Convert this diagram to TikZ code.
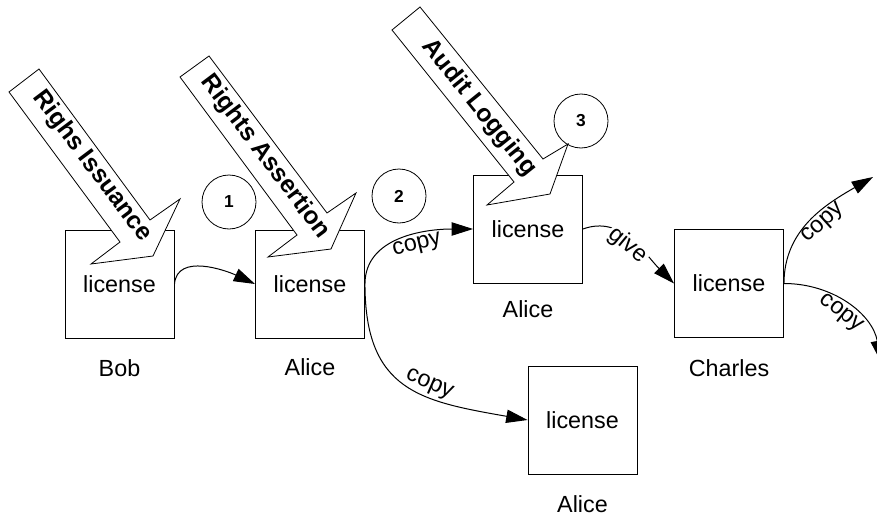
\documentclass[tikz,border=0pt]{standalone}
\usepackage{fontspec}
\setmainfont{Liberation Sans}
\usetikzlibrary{arrows.meta}

\begin{document}
\begin{tikzpicture}[x=0.75pt, y=0.75pt, >={Triangle[length=16pt,width=10pt]},
  font=\fontsize{17.5}{21}\selectfont,
  licbox/.style={draw, line width=0.7pt, minimum width=81.75pt, minimum height=81pt, inner sep=0pt},
  numcirc/.style={draw, circle, line width=0.6pt, minimum size=40.5pt, inner sep=0pt,
                  font=\fontsize{13}{15}\selectfont\bfseries},
  bigarrow/.style={draw, fill=white, line width=0.6pt, line join=miter},
  arrowtext/.style={font=\fontsize{18.5}{22}\selectfont\bfseries, inner sep=0pt},
  flow/.style={->, line width=0.75pt},
  flowlabel/.style={sloped, inner sep=1.5pt}]
\useasboundingbox (0,0) rectangle (877,-517);
\clip (0,0) rectangle (877,-517);
% license boxes
\node[licbox] (bob) at (119.5,-284) {license};
\node[licbox] (aliceA) at (310,-284) {license};
\node[licbox] (aliceB) at (528,-229) {license};
\node[licbox] (aliceC) at (582.5,-420) {license};
\node[licbox] (charles) at (729,-283.5) {license};
% holders
\node (bobname) at (119.5,-368) {Bob};
\node (aliceAname) at (310,-367) {Alice};
\node (aliceBname) at (528,-309) {Alice};
\node (aliceCname) at (582.5,-504) {Alice};
\node (charlesname) at (729,-368) {Charles};
% step numbers
\node[numcirc] (n1) at (229,-202) {1};
\node[numcirc] (n2) at (399,-196) {2};
\node[numcirc] (n3) at (581,-121) {3};
% transfers
\draw[flow] (bob.east) to[out=85, in=155] (aliceA.west);
\draw[flow] (aliceA.east) to[out=90, in=180] node[flowlabel, below, pos=0.6] {copy} (aliceB.west);
\draw[flow] (aliceA.east) to[out=-90, in=170, looseness=1.3] node[flowlabel, above, pos=0.6] {copy} (aliceC.west);
\draw[flow] (aliceB.east) to[out=20, in=135] node[flowlabel, fill=white, below=-5pt, pos=0.5] {give} (charles.west);
\coordinate (cpyup) at (873,-177);
\coordinate (cpydown) at (881,-362);
\draw[flow] (charles.east) to[out=90, in=210] node[flowlabel, below, pos=0.55] {copy} (cpyup);
\draw[flow] (charles.east) to[out=0, in=100] node[flowlabel, below, pos=0.5] {copy} (cpydown);
% Rights Issuance
\draw[bigarrow] (9,-92) -- (39,-69) -- (150,-220) -- (180,-199) -- (153,-256) -- (91,-264) -- (120,-242) -- cycle;
\node[arrowtext, rotate=-53.1] (issue) at (92,-166) {Righs Issuance};
% Rights Assertion
\draw[bigarrow] (180,-77) -- (209,-56) -- (327,-213) -- (356,-193) -- (331,-249) -- (268,-257) -- (297,-235) -- cycle;
\node[arrowtext, rotate=-53.1] (assert) at (265,-157) {Rights Assertion};
% Audit Logging
\draw[bigarrow] (392,-30) -- (420,-7) -- (543,-159) -- (568,-144) -- (550,-194) -- (487,-205) -- (514,-182) -- cycle;
\node[arrowtext, rotate=-51.2] (audit) at (479,-108) {Audit Logging};
\end{tikzpicture}
\end{document}
